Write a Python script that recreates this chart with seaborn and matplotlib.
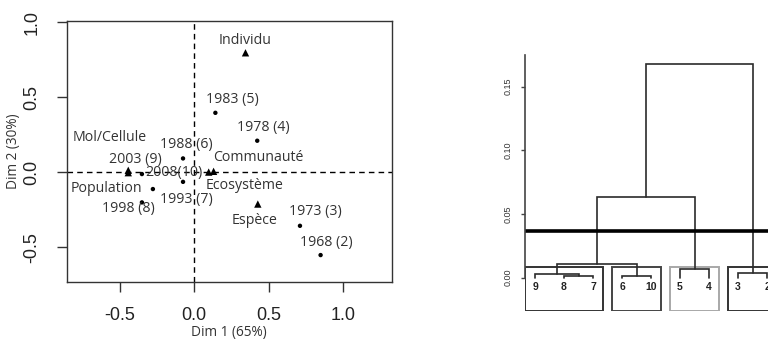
import numpy as np
import pandas as pd
import matplotlib
matplotlib.use("Agg")
import matplotlib.pyplot as plt
from matplotlib.patches import Rectangle
import seaborn as sns

# --- CA factor map: years (dots) and organisation levels (triangles) ---
year_labels = ["1968 (2)", "1973 (3)", "1978 (4)", "1983 (5)", "1988 (6)",
               "1993 (7)", "1998 (8)", "2003 (9)", "2008(10)"]
year_dim1 = [0.851, 0.712, 0.424, 0.142, -0.076, -0.076, -0.353, -0.279, -0.353]
year_dim2 = [-0.553, -0.358, 0.209, 0.395, 0.091, -0.065, -0.202, -0.113, -0.013]

level_labels = ["Individu", "Communauté", "Ecosystème", "Espèce",
                "Mol/Cellule", "Population"]
level_dim1 = [0.345, 0.13, 0.097, 0.428, -0.445, -0.445]
level_dim2 = [0.795, 0.005, 0.0, -0.213, 0.012, -0.004]

# --- hierarchical clustering of the years ---
leaf_order = ["9", "8", "7", "6", "10", "5", "4", "3", "2"]
# (child a, child b, height); str = leaf, int = index of an earlier merge
merges = [("8", "7", 0.0016), ("9", 0, 0.0026), ("6", "10", 0.0015),
          (1, 2, 0.0108), ("5", "4", 0.0065), ("3", "2", 0.0034),
          (3, 4, 0.063), (6, 5, 0.168)]
cut_height = 0.0369
groups = [["9", "8", "7"], ["6", "10"], ["5", "4"], ["3", "2"]]
dendro_ticks = [0.0, 0.05, 0.10, 0.15]

# label offsets (data units) for the factor map
label_offsets = {
    "1968 (2)": (0.04, 0.082), "1973 (3)": (0.106, 0.093),
    "1978 (4)": (0.044, 0.089), "1983 (5)": (0.113, 0.092),
    "1988 (6)": (0.02, 0.094), "1993 (7)": (0.022, -0.117),
    "1998 (8)": (-0.091, -0.04), "2003 (9)": (-0.12, 0.198),
    "2008(10)": (0.213, 0.008), "Individu": (-0.005, 0.085),
    "Communauté": (0.30, 0.093), "Ecosystème": (0.243, -0.087),
    "Espèce": (-0.023, -0.107), "Mol/Cellule": (-0.123, 0.217),
    "Population": (-0.15, -0.104),
}

sns.set_style("white")
plt.rcParams["font.family"] = ["Liberation Sans", "DejaVu Sans"]
label_font = ["Open Sans", "DejaVu Sans"]

fig = plt.figure(figsize=(7.68, 3.44), dpi=100)

# ---------------- left: factor map ----------------
ax = fig.add_axes([0.0872, 0.180, 0.4228, 0.759])
pts = pd.DataFrame({
    "dim1": year_dim1 + level_dim1,
    "dim2": year_dim2 + level_dim2,
    "label": year_labels + level_labels,
    "kind": ["year"] * len(year_labels) + ["level"] * len(level_labels),
})
sns.scatterplot(data=pts, x="dim1", y="dim2", style="kind",
                markers={"year": "o", "level": "^"},
                size="kind", sizes={"year": 10, "level": 28},
                color="black", edgecolor="none", legend=False, ax=ax, zorder=3)
ax.axhline(0, color="black", lw=1, ls=(0, (4, 3)), zorder=1)
ax.axvline(0, color="black", lw=1, ls=(0, (4, 3)), zorder=1)
for _, r in pts.iterrows():
    dx, dy = label_offsets[r["label"]]
    ax.text(r["dim1"] + dx, r["dim2"] + dy, r["label"], ha="center", va="center",
            fontsize=10.2, color="#333333", family=label_font)
ax.set_xlim(-0.858, 1.33)
ax.set_ylim(-0.733, 1.007)
ax.set_xticks([-0.5, 0.0, 0.5, 1.0])
ax.set_yticks([-0.5, 0.0, 0.5, 1.0])
ax.set_xticklabels(["-0.5", "0.0", "0.5", "1.0"])
ax.set_yticklabels(["-0.5", "0.0", "0.5", "1.0"], rotation=90, va="center")
ax.tick_params(axis="both", direction="out", length=7, width=1, color="#333333",
               labelsize=13, labelcolor="#222222", bottom=True, left=True)
ax.tick_params(axis="x", pad=11)
ax.tick_params(axis="y", pad=12)
for s in ax.spines.values():
    s.set_color("#333333")
    s.set_linewidth(1)
ax.set_xlabel("Dim 1 (65%)", fontsize=9.8, color="#333333",
              family=label_font, labelpad=1)
ax.set_ylabel("Dim 2 (30%)", fontsize=9.8, color="#333333",
              family=label_font, labelpad=2)

# ---------------- right: dendrogram ----------------
axd = fig.add_axes([0.6836, 0.0968, 0.334, 0.762])
leaf_x = {lab: i + 1 for i, lab in enumerate(leaf_order)}
node_x, node_y = [], []


def pos(c):
    if isinstance(c, str):
        return leaf_x[c], 0.0
    return node_x[c], node_y[c]


for a, b, h in merges:
    xa, ya = pos(a)
    xb, yb = pos(b)
    axd.plot([xa, xa, xb, xb], [ya, h, h, yb], color="#2b2b2b", lw=1.2,
             solid_joinstyle="miter")
    node_x.append((xa + xb) / 2)
    node_y.append(h)

for lab, x in leaf_x.items():
    axd.text(x, -0.0035, lab, ha="center", va="top", fontsize=7.5,
             fontweight="bold", color="#222222")

ymin = -0.026
heights = sorted([m[2] for m in merges], reverse=True)
k = len(groups)
rect_top = (heights[k - 2] + heights[k - 1]) / 2
box_colors = ["#333333", "#444444", "#a8a8a8", "#333333"]
for g, col in zip(groups, box_colors):
    x0 = leaf_x[g[0]] - 0.34
    x1 = leaf_x[g[-1]] + 0.33
    axd.add_patch(Rectangle((x0, ymin), x1 - x0, rect_top - ymin, fill=False,
                            edgecolor=col, lw=1.4))

axd.axhline(cut_height, color="black", lw=2.6)
axd.set_xlim(0.655, 9.5)
axd.set_ylim(ymin, 0.18)
sns.despine(ax=axd, bottom=True, right=True, top=True)
axd.spines["left"].set_bounds(0.0, 0.175)
axd.spines["left"].set_color("#444444")
axd.spines["left"].set_linewidth(1.2)
axd.set_xticks([])
axd.set_yticks(dendro_ticks)
axd.set_yticklabels([f"{t:.2f}" for t in dendro_ticks], rotation=90, va="center")
axd.tick_params(axis="y", direction="out", length=3, width=1, color="#444444",
                labelsize=6.5, labelcolor="#333333", pad=6, left=True)

fig.savefig("out.png", dpi=100)
